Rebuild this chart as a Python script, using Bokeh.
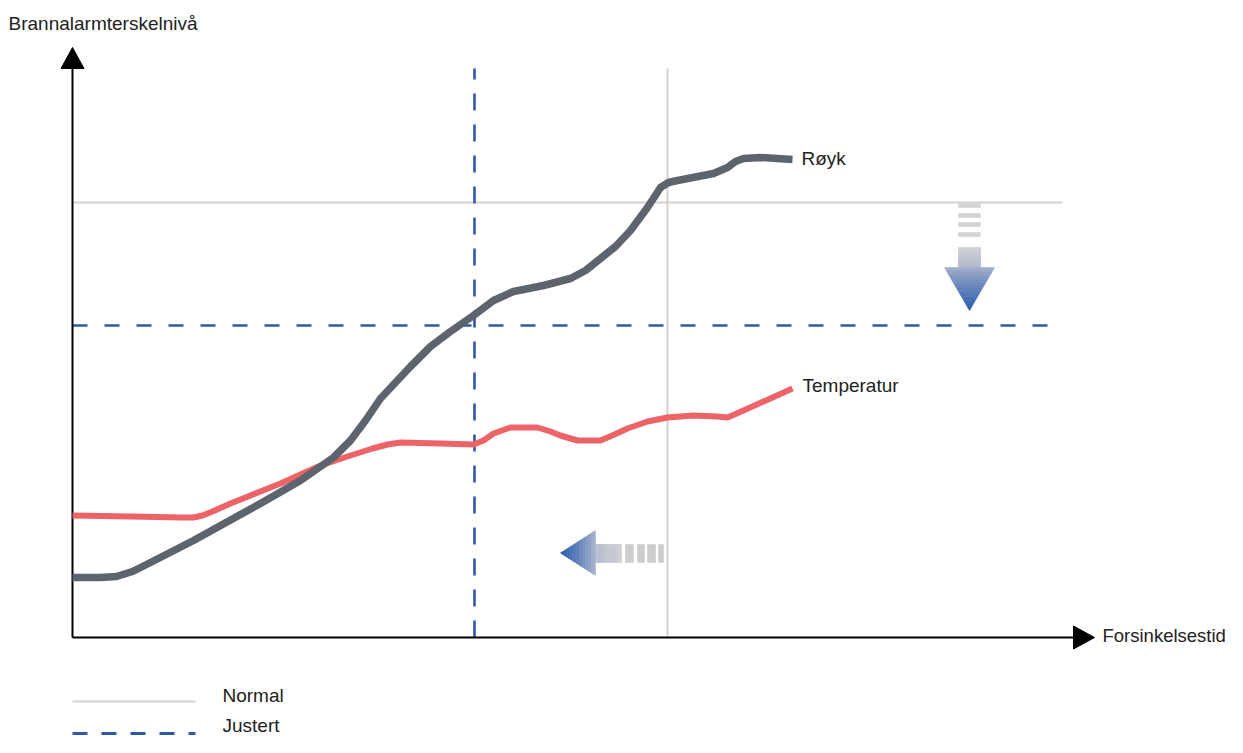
import numpy as np
from bokeh.plotting import figure
from bokeh.models import Range1d
from bokeh.core.properties import value
from bokeh.embed import file_html
from bokeh.resources import INLINE

# ---- data (x = delay time units, y = alarm threshold level units) ----
smoke_x = [0, 28, 44, 60, 78, 121, 188, 228, 261, 278, 293, 308, 323, 338, 358, 378,
           401, 421, 441, 471, 498, 513, 528, 543, 558, 575, 588, 596, 605, 641, 655,
           663, 671, 688, 720]
smoke_y = [60, 60, 61, 66, 75, 97, 134, 157, 180, 197, 217, 239, 255, 271, 291, 306,
           322, 337, 346, 352, 359, 367, 379, 391, 407, 430, 450, 455, 457, 464, 470,
           476, 479, 480, 478]

temp_x = [0, 58, 110, 121, 130, 140, 158, 208, 248, 278, 300, 315, 328, 368, 401, 411,
          421, 438, 465, 478, 488, 505, 528, 542, 555, 575, 595, 621, 645, 655, 671, 720]
temp_y = [122, 121, 120, 120, 122, 126, 134, 154, 172, 182, 189, 193, 195, 194, 193, 197,
          204, 210, 210, 206, 202, 197, 197, 203, 209, 216, 220, 222, 221, 220, 227, 249]

normal_level = 435
adjusted_level = 312
normal_delay = 595
adjusted_delay = 402
x_end = 990
y_top = 569

series_labels = ["Røyk", "Temperatur"]
axis_labels = ["Brannalarmterskelnivå", "Forsinkelsestid"]
legend_labels = ["Normal", "Justert"]

FONT = "Liberation Sans"
FS = "19px"
GRAY = "#d6d1cd"
BLUE = "#2f58a8"
SMOKE = "#5d646d"
TEMP = "#ec6468"
TXT = "#222222"

p = figure(width=1227, height=737, x_range=Range1d(-72, 1155), y_range=Range1d(-100, 637),
           output_backend="svg", toolbar_location=None, min_border=0,
           x_axis_type=None, y_axis_type=None)
p.grid.visible = False
p.outline_line_color = None
p.background_fill_color = "white"

# normal thresholds
p.line([0, x_end], [normal_level, normal_level], line_color=GRAY, line_width=2)
p.line([normal_delay, normal_delay], [0, y_top], line_color=GRAY, line_width=2)
# adjusted thresholds
p.line([0, x_end], [adjusted_level, adjusted_level], line_color=BLUE, line_width=2.6,
       line_dash="15 17")
p.line([adjusted_delay, adjusted_delay], [0, y_top], line_color=BLUE, line_width=2.6,
       line_dash="17 14")

# axes with arrowheads
p.line([0, 0], [0, 572], line_color="black", line_width=2)
p.line([0, 1004], [0, 0], line_color="black", line_width=2)
p.patch([-11.5, 11.5, 0], [569, 569, 590], fill_color="black", line_color="black")
p.patch([1001, 1001, 1022], [11.5, -11.5, 0], fill_color="black", line_color="black")


def hexc(c):
    return tuple(int(c[i:i + 2], 16) for i in (1, 3, 5))


def lerp(c0, c1, t):
    a, b = hexc(c0), hexc(c1)
    return "#%02x%02x%02x" % tuple(int(round(x + (y - x) * t)) for x, y in zip(a, b))


N = 24
xs, ys, cs = [], [], []
# ---- down arrow (normal -> adjusted level) ----
cx = 897
for y0, y1 in [(434, 430), (424, 420), (415, 411), (405, 401)]:
    xs.append([886, 908, 908, 886]); ys.append([y0, y0, y1, y1]); cs.append("#d4d4d6")
for i in range(N):
    t0, t1 = i / N, (i + 1) / N
    a, b = 390 - 20 * t0, 390 - 20 * t1
    xs.append([886, 908, 908, 886]); ys.append([a, a, b, b])
    cs.append(lerp("#d2d2d4", "#b0b8cc", (t0 + t1) / 2))
for i in range(N):
    t0, t1 = i / N, (i + 1) / N
    a, b = 370 - 43 * t0, 370 - 43 * t1
    w0, w1 = 25 * (1 - t0), 25 * (1 - t1)
    xs.append([cx - w0, cx + w0, cx + w1, cx - w1]); ys.append([a, a, b, b])
    cs.append(lerp("#a9b4cc", "#2a5aae", ((t0 + t1) / 2) ** 0.8))

# ---- left arrow (normal -> adjusted delay) ----
cy = 84.5
for x0, x1 in [(553, 561), (565, 572), (575, 583), (586, 591)]:
    xs.append([x0, x1, x1, x0]); ys.append([93, 93, 75, 75]); cs.append("#cdcdcf")
for i in range(N):
    t0, t1 = i / N, (i + 1) / N
    a, b = 549 - 26 * t0, 549 - 26 * t1
    xs.append([a, b, b, a]); ys.append([93, 93, 75, 75])
    cs.append(lerp("#d0d0d2", "#b4bccf", (t0 + t1) / 2))
for i in range(N):
    t0, t1 = i / N, (i + 1) / N
    a, b = 523 - 35 * t0, 523 - 35 * t1
    h0, h1 = 22.5 * (1 - t0), 22.5 * (1 - t1)
    xs.append([a, a, b, b]); ys.append([cy - h0, cy + h0, cy + h1, cy - h1])
    cs.append(lerp("#b0bacf", "#2a58ad", ((t0 + t1) / 2) ** 0.8))

p.patches(xs, ys, fill_color=cs, line_color=cs, line_width=0.6)

# ---- curves ----
p.line(temp_x, temp_y, line_color=TEMP, line_width=6, line_join="round")
p.line(smoke_x, smoke_y, line_color=SMOKE, line_width=7.5, line_join="round")

# ---- texts ----
p.text([smoke_x[-1] + 9, temp_x[-1] + 10], [smoke_y[-1] + 1, temp_y[-1] + 3], text=series_labels,
       text_font=value(FONT), text_font_size=FS, text_baseline="middle", text_color=TXT)
p.text([-64], [614], text=[axis_labels[0]], text_font=value(FONT), text_font_size=FS,
       text_baseline="middle", text_color=TXT)
p.text([1030], [2], text=[axis_labels[1]], text_font=value(FONT), text_font_size="18.5px",
       text_baseline="middle", text_color=TXT)

# ---- legend ----
p.line([0, 123], [-64, -64], line_color=GRAY, line_width=2)
p.line([0, 123], [-96, -96], line_color=BLUE, line_width=3, line_dash="15 14")
p.text([150, 150], [-58, -88], text=legend_labels, text_font=value(FONT), text_font_size=FS,
       text_baseline="middle", text_color=TXT)

open("out.html", "w").write(file_html(p, INLINE))
